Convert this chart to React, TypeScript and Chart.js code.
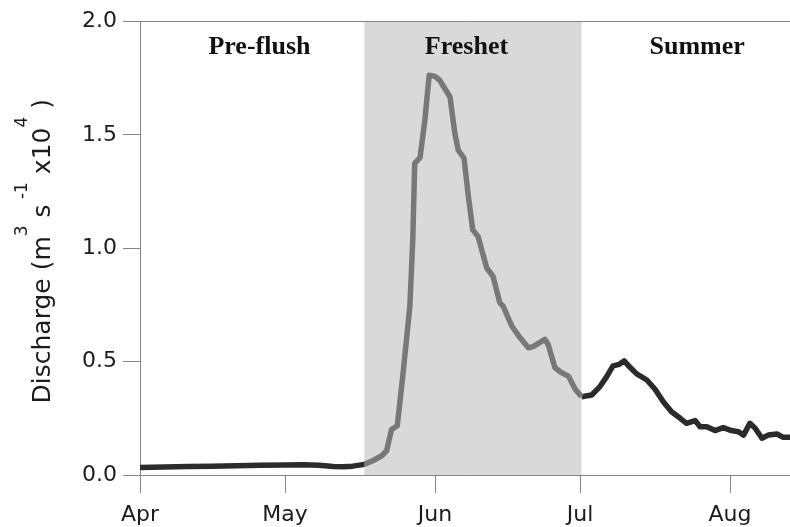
import React, { useEffect, useRef } from 'react';
import { Chart, registerables } from 'chart.js';

Chart.register(...registerables);

// x values are days after 1 April
const monthTickDays = [0, 30, 61, 91, 122];
const monthTickLabels = ['Apr', 'May', 'Jun', 'Jul', 'Aug'];
const yTickValues = [0, 0.5, 1.0, 1.5, 2.0];

const freshetStart = 46.4;
const freshetEnd = 91.3;
const xMax = 134.4;

const periodNames = ['Pre-flush', 'Freshet', 'Summer'];
const periodLabelDays = [24.7, 67.5, 115.2];
const periodLabelLevel = 1.855;

const preflushDays = [0, 5, 10, 15, 20, 25, 30, 34, 37, 40, 42, 44, 46.4];
const preflushValues = [0.033, 0.035, 0.037, 0.039, 0.041, 0.043, 0.044, 0.045, 0.043, 0.038, 0.036, 0.039, 0.047];

const freshetDays = [46.4, 48.1, 50, 51, 52, 53.2, 54.4, 55.8, 56.4, 56.8, 57.9, 58.9, 59.8, 61, 62, 64.1, 65.1, 65.8, 67, 67.9, 68.8, 69.9, 71.7, 73, 74.4, 75.1, 76.9, 78.6, 80.3, 81.3, 83.7, 84.4, 85.8, 87.2, 88.6, 90, 91.3];
const freshetValues = [0.047, 0.063, 0.085, 0.107, 0.2, 0.217, 0.45, 0.744, 1.037, 1.374, 1.4, 1.565, 1.763, 1.758, 1.74, 1.667, 1.507, 1.433, 1.397, 1.228, 1.081, 1.052, 0.913, 0.876, 0.759, 0.744, 0.656, 0.605, 0.561, 0.566, 0.598, 0.576, 0.473, 0.451, 0.436, 0.378, 0.345];

const summerDays = [91.3, 93.4, 95.1, 96.5, 97.8, 99.1, 100.1, 101.0, 102.7, 104.8, 106.5, 108.2, 109.9, 111.7, 113.0, 114.8, 115.8, 117.2, 118.9, 120.6, 122.3, 123.7, 124.8, 126.1, 127.2, 128.6, 129.9, 131.7, 133.0, 134.4];
const summerValues = [0.345, 0.353, 0.39, 0.434, 0.481, 0.488, 0.503, 0.482, 0.446, 0.419, 0.378, 0.323, 0.279, 0.25, 0.228, 0.24, 0.213, 0.213, 0.196, 0.209, 0.196, 0.191, 0.176, 0.228, 0.206, 0.162, 0.176, 0.181, 0.166, 0.166];

const titleParts: [string, boolean][] = [
  ['Discharge (m', false],
  ['3', true],
  [' s', false],
  [' -1', true],
  [' x10', false],
  ['4', true],
  [' )', false],
];

const AXIS_COLOR = '#858585';
const TEXT_COLOR = '#1c1c1c';
const DARK_LINE = '#2b2b2b';
const GRAY_LINE = '#787878';
const SHADE = '#d9d9d9';
const SANS = '"DejaVu Sans", sans-serif';

const toPoints = (xs: number[], ys: number[]) => xs.map((x, i) => ({ x, y: ys[i] }));

const shadePlugin = {
  id: 'shade',
  beforeDraw(chart: any) {
    const { ctx, chartArea, scales } = chart;
    const x0 = scales.x.getPixelForValue(freshetStart);
    const x1 = scales.x.getPixelForValue(freshetEnd);
    ctx.save();
    ctx.fillStyle = SHADE;
    ctx.fillRect(x0, chartArea.top, x1 - x0, chartArea.bottom - chartArea.top);
    ctx.restore();
  },
};

const labelsPlugin = {
  id: 'periodLabels',
  afterDatasetsDraw(chart: any) {
    const { ctx, scales } = chart;
    ctx.save();
    ctx.fillStyle = '#111';
    ctx.font = 'bold 26px "Liberation Serif", serif';
    ctx.textAlign = 'center';
    ctx.textBaseline = 'alphabetic';
    periodNames.forEach((name, i) => {
      const x = scales.x.getPixelForValue(periodLabelDays[i]);
      const y = scales.y.getPixelForValue(periodLabelLevel);
      ctx.fillText(name, x, y);
    });
    ctx.restore();
  },
};

const yTitlePlugin = {
  id: 'yTitle',
  afterDraw(chart: any) {
    const { ctx, chartArea } = chart;
    const mainFont = `25px ${SANS}`;
    const supFont = `17px ${SANS}`;
    ctx.save();
    let total = 0;
    titleParts.forEach(([t, sup]) => {
      ctx.font = sup ? supFont : mainFont;
      total += ctx.measureText(t).width;
    });
    const cy = (chartArea.top + chartArea.bottom) / 2 + 3;
    ctx.translate(50, cy);
    ctx.rotate(-Math.PI / 2);
    ctx.fillStyle = TEXT_COLOR;
    ctx.textBaseline = 'alphabetic';
    ctx.textAlign = 'left';
    let u = -total / 2;
    titleParts.forEach(([t, sup]) => {
      ctx.font = sup ? supFont : mainFont;
      ctx.fillText(t, u, sup ? -23 : 0);
      u += ctx.measureText(t).width;
    });
    ctx.restore();
  },
};

export default function App() {
  const ref = useRef<HTMLCanvasElement>(null);

  useEffect(() => {
    if (!ref.current) return;
    const chart = new Chart(ref.current, {
      type: 'line',
      data: {
        datasets: [
          {
            label: 'Pre-flush',
            data: toPoints(preflushDays, preflushValues),
            borderColor: DARK_LINE,
          },
          {
            label: 'Freshet',
            data: toPoints(freshetDays, freshetValues),
            borderColor: GRAY_LINE,
          },
          {
            label: 'Summer',
            data: toPoints(summerDays, summerValues),
            borderColor: DARK_LINE,
          },
        ].map((d) => ({
          ...d,
          borderWidth: 5.5,
          pointRadius: 0,
          tension: 0,
          fill: false,
          borderJoinStyle: 'round' as const,
          borderCapStyle: 'butt' as const,
        })),
      },
      options: {
        animation: false,
        responsive: false,
        devicePixelRatio: 1,
        layout: { padding: { top: 21.5, right: 0, bottom: 0, left: 0 } },
        plugins: {
          legend: { display: false },
          tooltip: { enabled: false },
        },
        scales: {
          x: {
            type: 'linear',
            min: 0,
            max: xMax,
            afterBuildTicks: (scale: any) => {
              scale.ticks = monthTickDays.map((v) => ({ value: v }));
            },
            afterFit: (scale: any) => {
              scale.height = 52;
            },
            ticks: {
              autoSkip: false,
              maxRotation: 0,
              padding: 9,
              color: TEXT_COLOR,
              font: { family: SANS, size: 22 },
              callback: (v: any) => {
                const i = monthTickDays.indexOf(Number(v));
                return i >= 0 ? monthTickLabels[i] : '';
              },
            },
            grid: {
              drawOnChartArea: false,
              drawTicks: true,
              tickLength: 18,
              tickColor: AXIS_COLOR,
              color: AXIS_COLOR,
            },
            border: { display: true, color: AXIS_COLOR, width: 1 },
          },
          y: {
            min: 0,
            max: 2,
            afterBuildTicks: (scale: any) => {
              scale.ticks = yTickValues.map((v) => ({ value: v }));
            },
            afterFit: (scale: any) => {
              scale.width = 140;
            },
            ticks: {
              padding: 6,
              color: TEXT_COLOR,
              font: { family: SANS, size: 22 },
              callback: (v: any) => Number(v).toFixed(1),
            },
            grid: {
              drawOnChartArea: true,
              drawTicks: true,
              tickLength: 17,
              tickColor: AXIS_COLOR,
              color: (ctx: any) => (ctx.tick && ctx.tick.value === 2 ? AXIS_COLOR : 'rgba(0,0,0,0)'),
            },
            border: { display: true, color: AXIS_COLOR, width: 1 },
          },
        },
      },
      plugins: [shadePlugin, labelsPlugin, yTitlePlugin],
    });
    return () => chart.destroy();
  }, []);

  return (
    <div style={{ position: 'fixed', left: 0, top: 0, width: 790, height: 527, background: '#fff' }}>
      <canvas ref={ref} width={790} height={527} style={{ width: 790, height: 527, display: 'block' }} />
    </div>
  );
}
